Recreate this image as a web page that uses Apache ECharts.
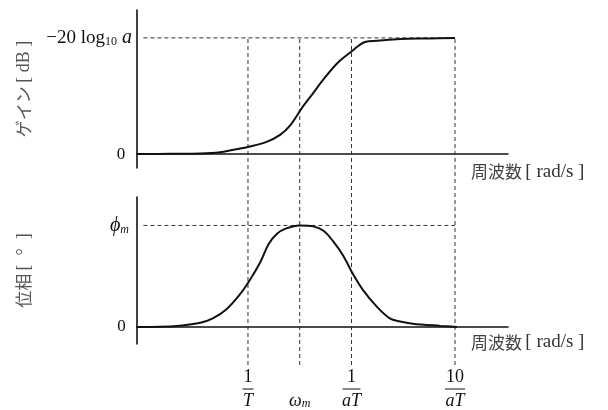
<!DOCTYPE html>
<html>
<head>
<meta charset="utf-8">
<script src="https://cdn.jsdelivr.net/npm/echarts@6.0.0/dist/echarts.min.js"></script>
<style>
  html, body { margin: 0; padding: 0; background: #fff; }
  #chart { width: 608px; height: 410px; }
</style>
</head>
<body>
<div id="chart"></div>
<script>
// x values are log10 of frequency (1/T at 0)
var gainX = [-1.07, -0.75, -0.46, -0.27, -0.15, 0.02, 0.18, 0.31, 0.41, 0.52, 0.63, 0.74, 0.86, 0.96, 1.03, 1.08, 1.13, 1.25, 1.47, 1.76, 2.0];
var gainDb = [0, 0.05, 0.1, 0.3, 0.7, 1.3, 2.1, 3.3, 5.0, 7.9, 10.5, 13.1, 15.6, 17.1, 18.1, 18.8, 19.3, 19.5, 19.8, 19.9, 20];

var phaseX = [-1.07, -0.85, -0.66, -0.46, -0.34, -0.21, -0.08, 0.02, 0.12, 0.20, 0.28, 0.37, 0.50, 0.63, 0.73, 0.82, 0.92, 1.02, 1.11, 1.24, 1.37, 1.47, 1.59, 1.86, 2.02];
var phaseDeg = [0, 0.1, 0.7, 2.3, 4.7, 9.5, 17.5, 25.6, 35.2, 44.9, 50.5, 53.4, 55.0, 54.5, 52.1, 46.6, 38.6, 28.1, 20.1, 11.3, 4.7, 3.0, 1.8, 0.6, 0];

var gainMax = 20;      // -20 log10 a
var phaseMax = 55;     // phi_m
var tickX = [0, 0.5, 1, 2];
var tickNum = ['1', '', '1', '10'];
var tickDen = ['{i|T}', '{i|ω}{sub|m}', '{i|aT}', '{i|aT}'];
var tickBar = ['bar1', 'nobar', 'bar2', 'bar3'];

var xMin = -1.072, xMax = 2.512;
var dashStart = -1.01, dashEnd = 2;

var serif = '"Liberation Serif", "DejaVu Serif", serif';
var jp = '"Noto Sans CJK JP", sans-serif';
var ink = '#111';
var dashStyle = { color: '#333', width: 1, type: [4, 3] };

function pairs(xs, ys) {
  return xs.map(function(x, i) { return [x, ys[i]]; });
}

var mathRich = {
  n: { fontFamily: serif, fontSize: 17, color: ink, align: 'center' },
  t: { fontFamily: serif, fontSize: 19, color: ink },
  i: { fontFamily: serif, fontSize: 18, fontStyle: 'italic', color: ink, align: 'center' },
  ib: { fontFamily: serif, fontSize: 20, fontStyle: 'italic', color: ink },
  sub: { fontFamily: serif, fontSize: 12, fontStyle: 'italic', color: ink, verticalAlign: 'bottom', align: 'center' },
  subr: { fontFamily: serif, fontSize: 12, color: ink, verticalAlign: 'bottom' },
  num: { fontFamily: serif, fontSize: 18, lineHeight: 17, color: ink, align: 'center' },
  bar1: { width: 11, height: 1, lineHeight: 6, backgroundColor: ink, align: 'center' },
  bar2: { width: 18, height: 1, lineHeight: 6, backgroundColor: ink, align: 'center' },
  bar3: { width: 20, height: 1, lineHeight: 6, backgroundColor: ink, align: 'center' },
  nobar: { lineHeight: 6, align: 'center' }
};

var nameRich = {
  j: { fontFamily: jp, fontSize: 17, color: '#444' },
  r: { fontFamily: serif, fontSize: 19, color: '#333' }
};

var yNameRich = {
  j: { fontFamily: jp, fontSize: 17, color: '#555' },
  r: { fontFamily: serif, fontSize: 18, color: '#555' }
};

var chart = echarts.init(document.getElementById('chart'), null, { renderer: 'canvas' });

var xLine = { show: true, onZero: true, lineStyle: { color: ink, width: 1.6 } };
var yLine = { show: true, onZero: false, lineStyle: { color: ink, width: 1.6 } };

chart.setOption({
  animation: false,
  backgroundColor: '#fff',
  grid: [
    { left: 137, right: 100, top: 10, height: 158 },
    { left: 137, right: 100, top: 197, height: 165 },
    { left: 137, right: 100, top: 38, height: 327 }
  ],
  xAxis: [
    {
      gridIndex: 0, type: 'value', min: xMin, max: xMax,
      axisLine: xLine, axisTick: { show: false }, axisLabel: { show: false }, splitLine: { show: false },
      name: '{j|周波数} {r|[ rad/s ]}', nameLocation: 'end', nameGap: -37,
      nameTextStyle: { verticalAlign: 'top', padding: [8, 0, 0, 0], rich: nameRich }
    },
    {
      gridIndex: 1, type: 'value', min: xMin, max: xMax,
      axisLine: xLine, axisTick: { show: false }, splitLine: { show: false },
      axisLabel: {
        show: true, customValues: tickX, margin: 25, rich: mathRich,
        formatter: function(v) {
          var k = tickX.indexOf(v);
          if (k < 0) return '';
          var num = tickNum[k] ? '{num|' + tickNum[k] + '}' : '{num| }';
          return num + '\n{' + tickBar[k] + '| }\n' + tickDen[k];
        }
      },
      name: '{j|周波数} {r|[ rad/s ]}', nameLocation: 'end', nameGap: -37,
      nameTextStyle: { verticalAlign: 'top', padding: [6, 0, 0, 0], rich: nameRich }
    },
    { gridIndex: 2, type: 'value', min: xMin, max: xMax, show: false }
  ],
  yAxis: [
    {
      gridIndex: 0, type: 'value', min: -2.4, max: 24.8,
      axisLine: yLine, axisTick: { show: false }, splitLine: { show: false },
      axisLabel: {
        customValues: [0, gainMax], margin: 5, rich: mathRich,
        formatter: function(v) {
          return v === 0 ? '{n|0}  ' : '{t|−20 log}{subr|10}{ib| a}';
        }
      },
      name: '{j|ゲイン} {r|[ dB ]}', nameLocation: 'middle', nameGap: 104, nameRotate: 90,
      nameTextStyle: { rich: yNameRich }
    },
    {
      gridIndex: 1, type: 'value', min: -9.2, max: 70.4,
      axisLine: yLine, axisTick: { show: false }, splitLine: { show: false },
      axisLabel: {
        customValues: [0, phaseMax], margin: 8, rich: mathRich,
        formatter: function(v) {
          return v === 0 ? '{n|0} ' : '{ib|ϕ}{sub|m}';
        }
      },
      name: '{j|位相} {r|[  °  ]}', nameLocation: 'middle', nameGap: 104, nameRotate: 90,
      nameTextStyle: { rich: yNameRich }
    },
    { gridIndex: 2, type: 'value', min: 0, max: 1, show: false }
  ],
  series: [
    {
      type: 'line', xAxisIndex: 0, yAxisIndex: 0, symbol: 'none', silent: true,
      data: [[dashStart, gainMax], [dashEnd, gainMax]], lineStyle: dashStyle, z: 1
    },
    {
      type: 'line', xAxisIndex: 1, yAxisIndex: 1, symbol: 'none', silent: true,
      data: [[dashStart, phaseMax], [dashEnd, phaseMax]], lineStyle: dashStyle, z: 1
    }
  ].concat(tickX.map(function(x) {
    return {
      type: 'line', xAxisIndex: 2, yAxisIndex: 2, symbol: 'none', silent: true,
      data: [[x, 0], [x, 1]], lineStyle: dashStyle, z: 1
    };
  })).concat([
    {
      type: 'line', xAxisIndex: 0, yAxisIndex: 0, symbol: 'none', smooth: 0.35, silent: true,
      data: pairs(gainX, gainDb), lineStyle: { color: ink, width: 2 }, z: 3
    },
    {
      type: 'line', xAxisIndex: 1, yAxisIndex: 1, symbol: 'none', smooth: 0.35, silent: true,
      data: pairs(phaseX, phaseDeg), lineStyle: { color: ink, width: 2 }, z: 3
    }
  ])
});
</script>
</body>
</html>
